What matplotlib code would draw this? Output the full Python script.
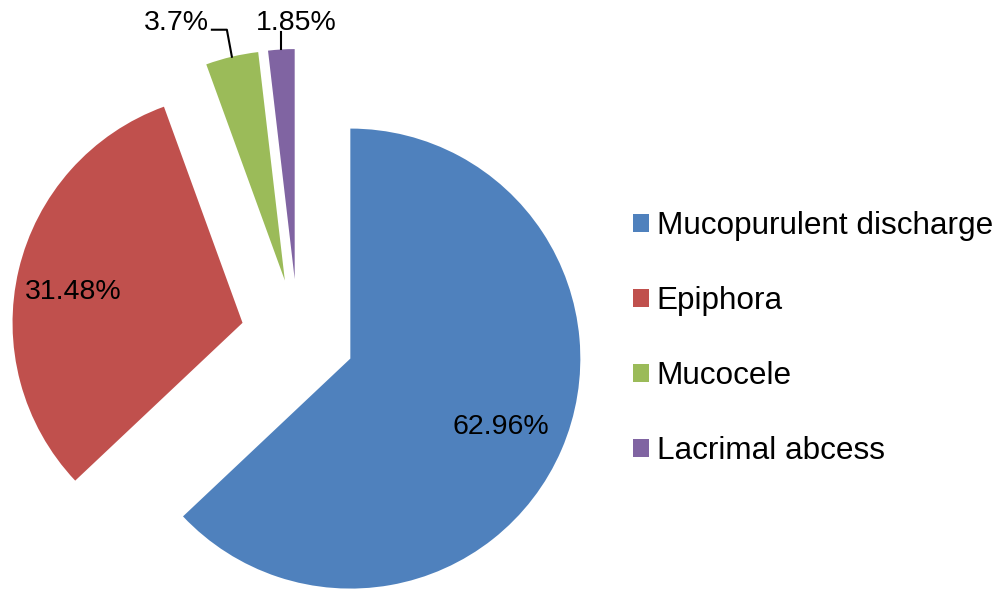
import numpy as np
import matplotlib.pyplot as plt

plt.rcParams['font.family'] = ['Liberation Sans', 'DejaVu Sans']

# 数据
categories = ['Mucopurulent discharge', 'Epiphora', 'Mucocele', 'Lacrimal abcess']
shares = [62.96, 31.48, 3.7, 1.85]
share_labels = ['62.96%', '31.48%', '3.7%', '1.85%']
colors = ['#4F81BD', '#C0504D', '#9BBB59', '#8064A2']

W, H = 1000, 594
fig = plt.figure(figsize=(W / 100, H / 100), dpi=100)
ax = fig.add_axes([0, 0, 1, 1])  # 数据坐标 = 像素

R = 230
wedges, _ = ax.pie(shares, colors=colors, startangle=90, counterclock=False,
                   radius=R, center=(298, 258), explode=[57] * 4,
                   wedgeprops=dict(linewidth=0))
ax.set_xlim(0, W)
ax.set_ylim(0, H)
ax.set_aspect('equal')
ax.axis('off')


def along(w, frac, dang=0.0):
    # 扇区中线上的点，frac 为半径比例
    a = np.deg2rad((w.theta1 + w.theta2) / 2 + dang)
    cx, cy = w.center
    return cx + frac * w.r * np.cos(a), cy + frac * w.r * np.sin(a)


# 大扇区：标签放在内部
x, y = along(wedges[0], 0.72, -1)
ax.text(x, y, share_labels[0], ha='center', va='center', fontsize=20.5)
x, y = along(wedges[1], 0.75, 3)
ax.text(x, y, share_labels[1], ha='center', va='center', fontsize=20.5)

# 小扇区：外部标签加引线
px, py = along(wedges[2], 1.0)
ax.plot([px, px - 5, px - 20], [py, py + 27, py + 27], color='black', lw=1.5)
ax.text(px - 23, py + 27, share_labels[2], ha='right', va='baseline', fontsize=20.5)

px, py = along(wedges[3], 1.0)
ax.plot([px, px], [py, py + 17], color='black', lw=1.5)
ax.text(px + 15, py + 19.5, share_labels[3], ha='center', va='baseline', fontsize=20.5)

ax.legend(wedges, categories, loc='center left', bbox_to_anchor=(633 / W, 255.5 / H),
          frameon=False, fontsize=22.7, handlelength=0.5, handleheight=0.5,
          handletextpad=0.25, labelspacing=1.43, borderpad=0, borderaxespad=0)

fig.savefig('out.png', dpi=100)
